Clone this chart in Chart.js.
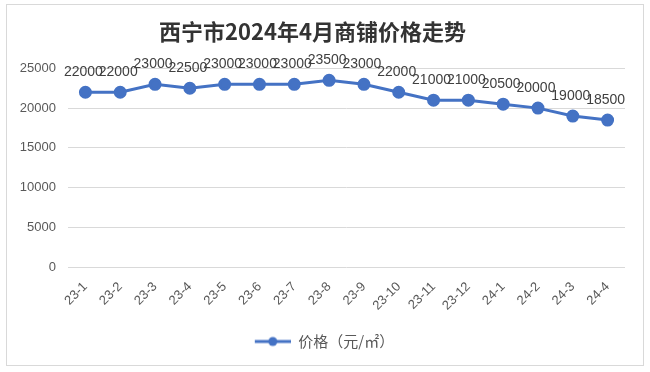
<!DOCTYPE html>
<html>
<head>
<meta charset="utf-8">
<script src="https://cdn.jsdelivr.net/npm/chart.js@4.4.1/dist/chart.umd.min.js"></script>
<style>
body { margin: 0; background: #fff; }
#wrap { position: relative; width: 650px; height: 372px; }
#frame { position: absolute; left: 6px; top: 4px; width: 636px; height: 360px; border: 1px solid #d9d9d9; pointer-events: none; }
</style>
</head>
<body>
<div id="wrap">
<canvas id="myChart" width="650" height="372"></canvas>
<div id="frame"></div>
</div>
<script>
var months = ['23-1', '23-2', '23-3', '23-4', '23-5', '23-6', '23-7', '23-8', '23-9', '23-10', '23-11', '23-12', '24-1', '24-2', '24-3', '24-4'];
var prices = [22000, 22000, 23000, 22500, 23000, 23000, 23000, 23500, 23000, 22000, 21000, 21000, 20500, 20000, 19000, 18500];
var seriesName = '价格（元/㎡）';
var chartTitle = '西宁市2024年4月商铺价格走势';
var blue = '#4472C4';

// legend marker: short line with a dot, blank space on the left nudges the legend right
var marker = document.createElement('canvas');
marker.width = 60;
marker.height = 12;
var mctx = marker.getContext('2d');
mctx.strokeStyle = blue;
mctx.lineWidth = 3;
mctx.beginPath();
mctx.moveTo(24, 6);
mctx.lineTo(60, 6);
mctx.stroke();
mctx.fillStyle = blue;
mctx.beginPath();
mctx.arc(42, 6, 4.5, 0, Math.PI * 2);
mctx.fill();

var valueLabels = {
    id: 'valueLabels',
    afterDatasetsDraw: function(chart) {
        var ctx = chart.ctx;
        var meta = chart.getDatasetMeta(0);
        ctx.save();
        ctx.font = '14px "Liberation Sans", Arial, sans-serif';
        ctx.fillStyle = '#404040';
        ctx.textAlign = 'center';
        ctx.textBaseline = 'bottom';
        meta.data.forEach(function(pt, i) {
            ctx.fillText(prices[i], pt.x - 2, pt.y - 13);
        });
        ctx.restore();
    }
};

var ctx = document.getElementById('myChart').getContext('2d');
var chart = new Chart(ctx, {
    type: 'line',
    data: {
        labels: months,
        datasets: [{
            label: seriesName,
            data: prices,
            borderColor: blue,
            backgroundColor: blue,
            borderWidth: 3,
            pointRadius: 5,
            pointBackgroundColor: blue,
            pointBorderColor: blue,
            tension: 0
        }]
    },
    options: {
        responsive: false,
        animation: false,
        layout: {
            padding: { left: 0, right: 25, top: 0, bottom: 13 }
        },
        scales: {
            x: {
                offset: true,
                grid: { display: false },
                border: { display: false },
                ticks: {
                    color: '#595959',
                    font: { size: 13, family: '"Liberation Sans", Arial, sans-serif' },
                    minRotation: 45,
                    maxRotation: 45,
                    autoSkip: false,
                    padding: 4
                },
                afterFit: function(scale) { scale.height = 56; }
            },
            y: {
                min: 0,
                max: 25000,
                ticks: {
                    stepSize: 5000,
                    color: '#595959',
                    font: { size: 13, family: '"Liberation Sans", Arial, sans-serif' },
                    padding: 12,
                    callback: function(v) { return String(v); }
                },
                grid: { color: '#d9d9d9', drawTicks: false },
                border: { display: false },
                afterFit: function(scale) { scale.width = 68; }
            }
        },
        plugins: {
            title: {
                display: true,
                text: chartTitle,
                color: '#333333',
                font: { size: 22, weight: 'bold', family: '"Noto Sans CJK SC", sans-serif' },
                padding: { top: 18, bottom: 24 }
            },
            legend: {
                position: 'bottom',
                labels: {
                    usePointStyle: true,
                    pointStyle: marker,
                    pointStyleWidth: 60,
                    color: '#595959',
                    font: { size: 15, family: '"Noto Sans CJK SC", sans-serif' },
                    padding: 11
                }
            },
            tooltip: { enabled: false }
        }
    },
    plugins: [valueLabels]
});
</script>
</body>
</html>
